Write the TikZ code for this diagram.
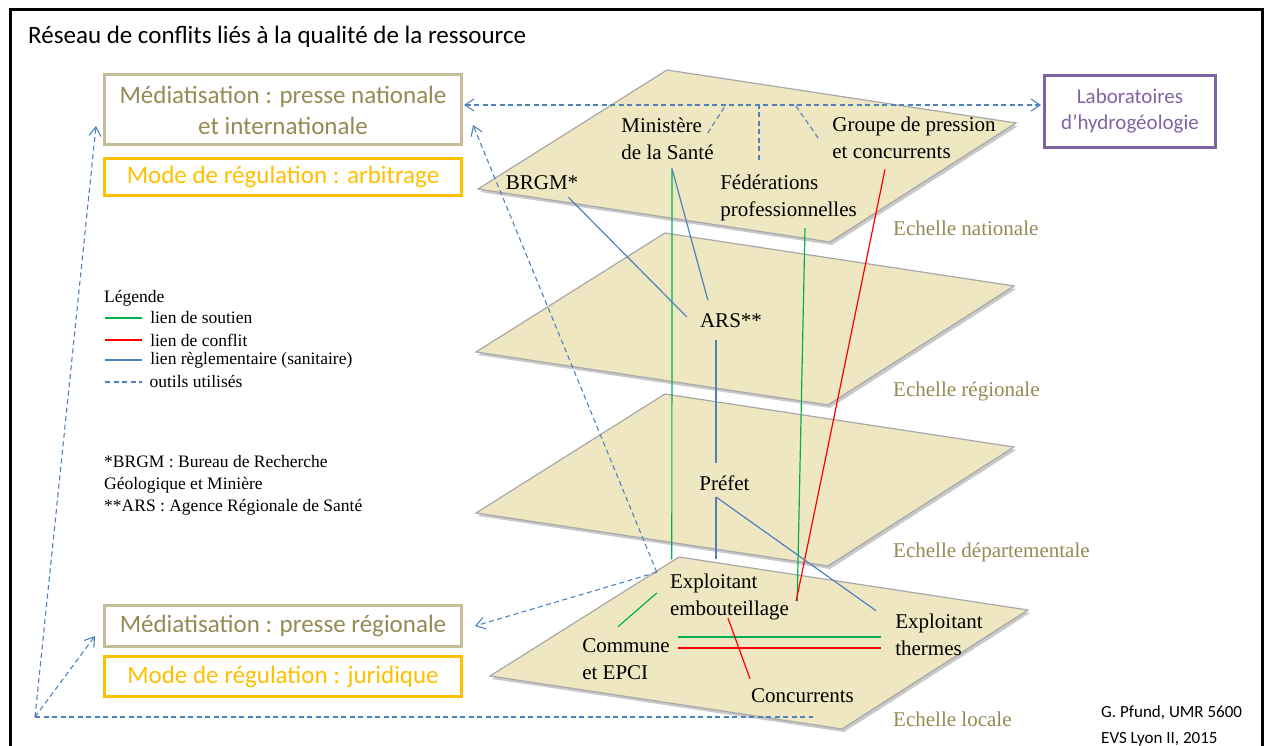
\documentclass[tikz,border=0pt]{standalone}
\usepackage{fontspec}
\setmainfont{Liberation Serif}
\newfontfamily\calibri{Carlito}
\usepackage{tikz}
\usetikzlibrary{calc}
\usetikzlibrary{arrows.meta}

\definecolor{plan}{RGB}{238,231,194}
\definecolor{planbord}{RGB}{168,168,168}
\definecolor{olive}{RGB}{148,138,84}
\definecolor{olivebord}{RGB}{196,189,151}
\definecolor{orreg}{RGB}{255,192,0}
\definecolor{violabo}{RGB}{128,100,162}
\definecolor{bleuregle}{RGB}{79,129,189}
\definecolor{vertsoutien}{RGB}{0,176,80}
\definecolor{rougeconflit}{RGB}{255,0,0}

\begin{document}
\begin{tikzpicture}[x=1pt, y=-1pt,
  acteur/.style={align=left, inner sep=0pt, font=\fontsize{21}{27}\selectfont},
  boite/.style={draw, line width=3pt, minimum width=357pt, align=center, inner sep=0pt, font=\calibri\fontsize{25}{31}\selectfont},
  echelle/.style={text=olive, inner sep=0pt, font=\fontsize{21}{25}\selectfont},
  legende/.style={inner sep=0pt, font=\fontsize{17.5}{22}\selectfont},
  credit/.style={inner sep=0pt, font=\calibri\fontsize{17}{26}\selectfont},
  soutien/.style={draw=vertsoutien, line width=1.2pt},
  conflit/.style={draw=rougeconflit, line width=1.2pt},
  regle/.style={draw=bleuregle, line width=1.2pt},
  outil/.style={draw=bleuregle, line width=1.1pt, dash pattern=on 5pt off 3.5pt, >={Straight Barb[length=9pt, width=12pt]}}]

\useasboundingbox (0,0) rectangle (1267,746);
\draw[black, line width=3pt] (10,10) rectangle (1262,770);

\node[font=\calibri\fontsize{25}{31}\selectfont, anchor=base west, inner sep=0pt] (titre) at (28,43.5) {Réseau de conflits liés à la qualité de la ressource};

\foreach \x/\y/\ly/\ech in {667/70/228/nationale, 665/233/391/régionale, 665/394/552/départementale, 679/557/719/locale} {
  \fill[black!30, opacity=.7] ($(\x,\y)+(2,3)$) --++(349,53) --++(-186,119) --++(-352,-53) -- cycle;
  \filldraw[fill=plan, draw=planbord, line width=1.2pt] (\x,\y) --++(349,53) --++(-186,119) --++(-352,-53) -- cycle;
  \node[echelle, anchor=west] at (893,\ly) {Echelle \ech};
}

\node[boite, draw=olivebord, text=olive, minimum height=70pt] (natbox) at (283,110) {Médiatisation : presse nationale\\et internationale};
\node[boite, draw=orreg, text=orreg, minimum height=37pt] (arbbox) at (283,177) {Mode de régulation : arbitrage};
\node[boite, draw=olivebord, text=olive, minimum height=41pt] (regbox) at (283,626) {Médiatisation : presse régionale};
\node[boite, draw=orreg, text=orreg, minimum height=40pt] (jurbox) at (283,676.5) {Mode de régulation : juridique};
\node[boite, draw=violabo, text=violabo, minimum width=171pt, minimum height=72pt, font=\calibri\fontsize{21}{26}\selectfont] (labo) at (1130,111.5) {Laboratoires\\d’hydrogéologie};

\node[acteur] (min) at (667.5,138.5) {Ministère\\de la Santé};
\node[acteur] (grp) at (914,137.5) {Groupe de pression\\et concurrents};
\node[acteur] (brgm) at (542,183) {BRGM*};
\node[acteur] (fed) at (788.5,197.5) {Fédérations\\professionnelles};
\node[acteur] (ars) at (731,320.5) {ARS**};
\node[acteur] (pref) at (724.5,483) {Préfet};
\node[acteur] (emb) at (729.5,596.5) {Exploitant\\embouteillage};
\node[acteur] (therm) at (939,634.5) {Exploitant\\thermes};
\node[acteur] (comm) at (626,659.5) {Commune\\et EPCI};
\node[acteur] (conc) at (802.5,696) {Concurrents};

\draw[soutien] ($(min.south)+(4.5,9)$) -- ($(emb.north west)+(2,-14)$);
\draw[soutien] ($(fed.south)+(16.5,7.4)$) -- ($(emb.east)+(8,4.5)$);
\draw[soutien] ($(emb.west)+(-13,-3.5)$) -- ($(comm.north)+(-8,-12)$);
\draw[soutien] ($(comm.east)+(8,-22.5)$) -- ($(therm.west)+(-14,2.5)$);

\draw[conflit] ($(grp.south)+(-29,10.8)$) -- ($(emb.east)+(7,4.5)$);
\draw[conflit] ($(comm.east)+(8,-11.5)$) -- ($(therm.west)+(-14,13.5)$);
\draw[conflit] ($(emb.south)+(-1.5,-1.6)$) -- ($(conc.north west)+(-1,-10)$);

\draw[regle] ($(brgm.south east)+(-10,7)$) -- ($(ars.west)+(-13,-3.5)$);
\draw[regle] ($(min.south)+(4.5,9)$) -- ($(ars.north west)+(8,-13)$);
\draw[regle] ($(ars.south)+(-15,12)$) -- ($(pref.north)+(-8.5,-12.5)$);
\draw[regle] ($(pref.south)+(-8.5,6.3)$) -- ($(emb.north)+(-13.5,-14)$);
\draw[regle] ($(pref.south)+(-8.5,6.3)$) -- ($(therm.north west)+(-19,-2.7)$);

\draw[outil, <->] ($(natbox.east)+(1,-5)$) -- ($(labo.west)+(-2,-6.5)$);
\draw[outil] ($(min.east)+(-6,-5.5)$) --++(18,-28);
\draw[outil] ($(fed.north)+(-29.5,-14.7)$) --++(0,-55);
\draw[outil] ($(grp.west)+(-14,0.5)$) --++(-23,-33);

\coordinate (embout) at ($(emb.north west)+(-13,-1)$);
\draw[outil, ->] (embout) -- ($(natbox.east)+(10,15)$);
\draw[outil, ->] (embout) -- ($(regbox.east)+(12,0)$);

\coordinate (coin) at (35,717);
\draw[outil, ->] (coin) -- ($(natbox.west)+(-7,16)$);
\draw[outil, ->] (coin) -- ($(regbox.west)+(-8,10)$);
\draw[outil] (coin) -- ($(coin -| conc.center)+(10,0)$);

\node[legende, anchor=west] (legtitre) at (104,298) {Légende};
\foreach \y/\sty/\lw/\txt in {318/soutien/2.5/lien de soutien, 340/conflit/2.5/lien de conflit, 360/regle/2.5/lien règlementaire (sanitaire), 382/outil/1.2/outils utilisés}
  \draw[\sty, line width=\lw pt] (105,\y) --++(37,0) node[legende, anchor=west, xshift=7pt] {\txt};

\node[legende, anchor=west, align=left] (notes) at (104,485) {*BRGM : Bureau de Recherche\\Géologique et Minière\\**ARS : Agence Régionale de Santé};

\node[credit, anchor=west, align=left] (auteur) at (1101,726) {G. Pfund, UMR 5600\\EVS Lyon II, 2015};

\end{tikzpicture}
\end{document}
